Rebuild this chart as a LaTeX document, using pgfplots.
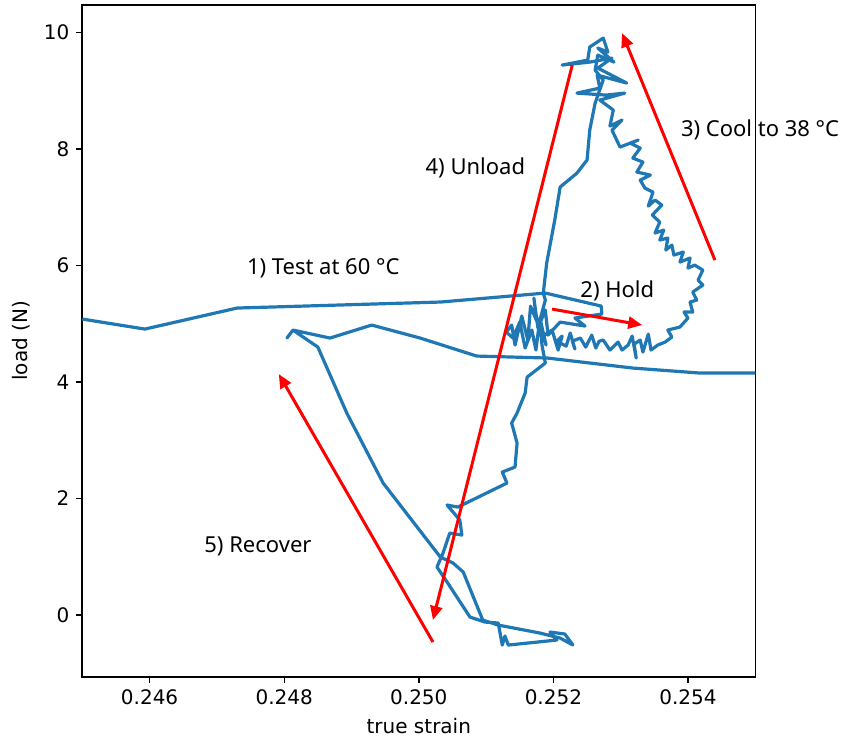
\documentclass[border=0pt]{standalone}
\usepackage{fontspec}
\setmainfont{DejaVu Sans}
\newfontfamily\annfont{Noto Sans}
\usepackage{pgfplots}
\usepackage{pgfplotstable}
\pgfplotsset{compat=1.18}
\usetikzlibrary{arrows.meta}
\definecolor{mplblue}{RGB}{31,119,180}

% strain / load trace: test, hold, cool, unload, recover, re-test
\pgfplotstableread{
x y
0.24500 5.080
0.24593 4.908
0.24730 5.269
0.25032 5.372
0.25188 5.526
0.25271 5.303
0.25272 5.166
0.25232 5.097
0.25247 4.960
0.25210 5.028
0.25192 4.805
0.25188 5.234
0.25177 4.925
0.25171 5.440
0.25175 5.050
0.25166 5.300
0.25162 4.719
0.25153 5.131
0.25143 4.634
0.25138 4.977
0.25130 4.857
0.25140 4.754
0.25150 5.028
0.25158 4.582
0.25168 4.891
0.25174 4.548
0.25180 5.097
0.25189 4.634
0.25186 4.800
0.25198 4.891
0.25207 4.548
0.25213 4.788
0.25205 4.700
0.25219 4.616
0.25225 4.840
0.25232 4.565
0.25228 4.700
0.25240 4.754
0.25248 4.599
0.25257 4.805
0.25263 4.582
0.25268 4.700
0.25274 4.719
0.25284 4.548
0.25296 4.685
0.25302 4.548
0.25311 4.634
0.25317 4.788
0.25323 4.411
0.25320 4.650
0.25329 4.719
0.25333 4.513
0.25341 4.822
0.25345 4.548
0.25355 4.634
0.25366 4.685
0.25376 4.771
0.25370 4.891
0.25388 4.943
0.25400 5.097
0.25394 5.200
0.25407 5.200
0.25403 5.372
0.25413 5.406
0.25407 5.543
0.25422 5.663
0.25415 5.749
0.25422 5.921
0.25410 6.006
0.25400 5.955
0.25403 6.127
0.25388 6.058
0.25393 6.230
0.25379 6.178
0.25376 6.350
0.25367 6.264
0.25370 6.470
0.25358 6.436
0.25364 6.607
0.25351 6.556
0.25358 6.744
0.25347 6.865
0.25361 7.036
0.25351 7.122
0.25341 7.019
0.25348 7.259
0.25336 7.328
0.25329 7.465
0.25344 7.551
0.25324 7.603
0.25333 7.774
0.25318 7.843
0.25329 8.014
0.25314 8.100
0.25326 8.152
0.25299 8.032
0.25287 8.323
0.25302 8.495
0.25284 8.392
0.25289 8.667
0.25269 8.838
0.25306 8.958
0.25278 8.924
0.25235 8.958
0.25269 9.044
0.25265 9.267
0.25309 9.130
0.25266 9.387
0.25287 9.559
0.25254 9.490
0.25213 9.439
0.25251 9.525
0.25254 9.748
0.25274 9.902
0.25281 9.662
0.25266 9.731
0.25290 9.490
0.25266 9.610
0.25262 9.353
0.25274 9.181
0.25262 8.787
0.25254 8.323
0.25250 7.809
0.25235 7.585
0.25210 7.345
0.25202 6.779
0.25190 6.041
0.25185 5.526
0.25188 5.406
0.25180 5.063
0.25183 4.634
0.25188 4.325
0.25161 4.084
0.25158 3.810
0.25146 3.467
0.25138 3.295
0.25146 2.952
0.25143 2.540
0.25124 2.454
0.25131 2.265
0.25058 1.853
0.25042 1.888
0.25061 1.630
0.25064 1.373
0.25046 1.407
0.25036 1.064
0.25027 0.824
0.25043 0.549
0.25076 -0.034
0.25098 -0.120
0.25118 -0.137
0.25124 -0.515
0.25128 -0.360
0.25133 -0.515
0.25205 -0.429
0.25195 -0.292
0.25217 -0.326
0.25229 -0.515
0.25210 -0.395
0.25180 -0.309
0.25118 -0.172
0.25095 -0.086
0.25066 0.738
0.25051 0.892
0.25032 0.995
0.24947 2.265
0.24893 3.467
0.24850 4.599
0.24813 4.891
0.24804 4.754
0.24813 4.891
0.24868 4.754
0.24930 4.977
0.25002 4.754
0.25086 4.445
0.25191 4.411
0.25318 4.239
0.25418 4.153
0.25500 4.153
}\trace

\begin{document}
\begin{tikzpicture}
\useasboundingbox (-41.15pt,-31.65pt) rectangle (380.85pt,338.4pt);
\begin{axis}[
  scale only axis, width=336.5pt, height=335.9pt,
  xmin=0.245, xmax=0.255, ymin=-1.06, ymax=10.47,
  xtick={0.246,0.248,0.250,0.252,0.254},
  xticklabels={0.246,0.248,0.250,0.252,0.254},
  ytick={0,2,4,6,8,10},
  scaled x ticks=false,
  tick align=outside, tick pos=left, major tick length=3pt,
  tick style={line width=0.7pt, black},
  axis line style={line width=0.8pt},
  /pgf/number format/assume math mode=true,
  xlabel={true strain}, ylabel={load (N)},
  clip=false,
]
\addplot[mplblue, line width=1.6pt, line join=round] table[x=x, y=y] {\trace};

\tikzset{ann/.style={red, line width=1.5pt, -{Triangle[length=7pt,width=6pt]}}}
\draw[ann] (axis cs:0.25198,5.251) -- (axis cs:0.25332,4.977);
\draw[ann] (axis cs:0.25440,6.092) -- (axis cs:0.25302,9.988);
\draw[ann] (axis cs:0.25228,9.439) -- (axis cs:0.25021,-0.086);
\draw[ann] (axis cs:0.25021,-0.463) -- (axis cs:0.24792,4.136);

\tikzset{lab/.style={font=\annfont\fontsize{11}{13}\selectfont}}
\node[lab] at (axis cs:0.24858,5.955) {1) Test at 60 °C};
\node[lab] at (axis cs:0.25295,5.560) {2) Hold};
\node[lab] at (axis cs:0.25507,8.323) {3) Cool to 38 °C};
\node[lab] at (axis cs:0.25084,7.671) {4) Unload};
\node[lab] at (axis cs:0.24761,1.184) {5) Recover};
\end{axis}
\end{tikzpicture}
\end{document}
